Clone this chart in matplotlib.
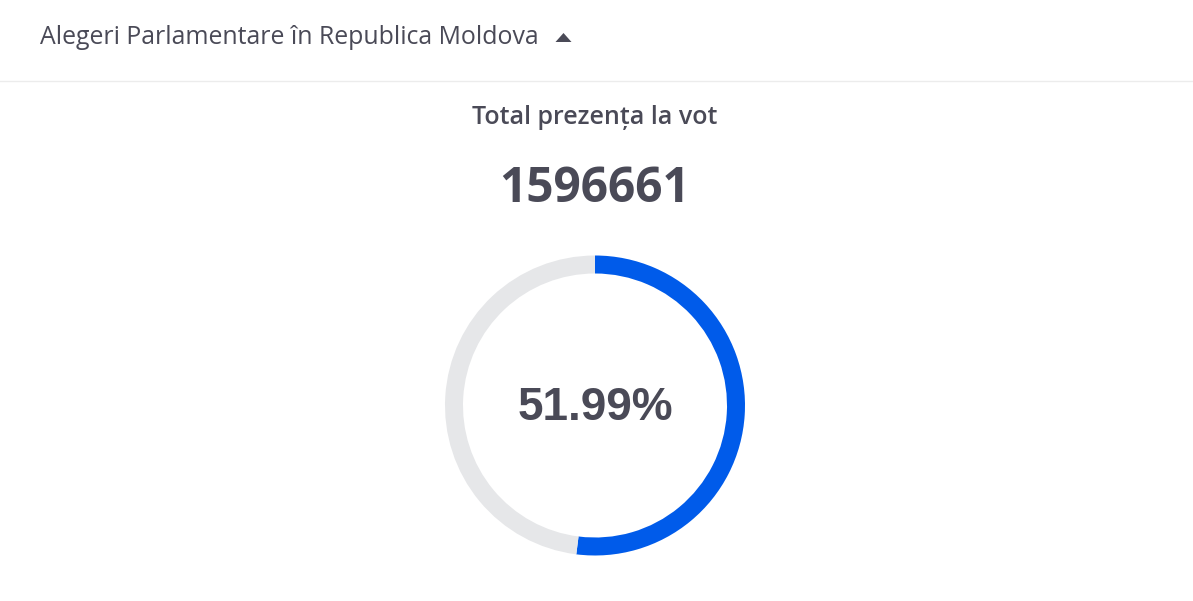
import matplotlib
matplotlib.use("Agg")
import matplotlib.pyplot as plt
from matplotlib.patches import Polygon

# data
header = "Alegeri Parlamentare în Republica Moldova"
title = "Total prezența la vot"
total_votes = 1596661
turnout_pct = 51.99
slices = [turnout_pct, 100 - turnout_pct]
colors = ["#005bea", "#e6e7e9"]

text_color = "#4a4a57"
W, H = 1193, 601

fig = plt.figure(figsize=(W / 100, H / 100), dpi=100)
fig.patch.set_facecolor("white")

# background axes in pixel coords
bg = fig.add_axes([0, 0, 1, 1])
bg.set_xlim(0, W)
bg.set_ylim(H, 0)
bg.axis("off")

bg.text(40, 38, header, fontsize=17.9, family=["Open Sans", "DejaVu Sans"],
        color=text_color, ha="left", va="center")
# little caret next to the header
bg.add_patch(Polygon([(555.5, 42), (571.5, 42), (563.5, 33)], closed=True,
                     facecolor=text_color, edgecolor="none"))
bg.axhline(81, color="#ececec", lw=1)

bg.text(595, 117, title, fontsize=18, family=["Open Sans", "DejaVu Sans"],
        weight="semibold", color=text_color, ha="center", va="center")
bg.text(595, 189, str(total_votes), fontsize=34.5, family=["Open Sans", "DejaVu Sans"],
        weight="bold", color=text_color, ha="center", va="center")

# donut
cx, cy, r, ring = 595, 405.5, 150, 18
ax = fig.add_axes([(cx - r) / W, (H - cy - r) / H, 2 * r / W, 2 * r / H])
ax.pie(slices, colors=colors, startangle=90, counterclock=False, radius=1,
       wedgeprops=dict(width=ring / r, edgecolor="none"))
ax.set_xlim(-1, 1)
ax.set_ylim(-1, 1)
ax.set_aspect("equal")
ax.axis("off")
ax.text(0, -0.02, f"{turnout_pct:.2f}%", fontsize=33, family="Liberation Sans",
        weight="bold", color=text_color, ha="center", va="center")

fig.savefig("out.png", dpi=100, facecolor="white")
